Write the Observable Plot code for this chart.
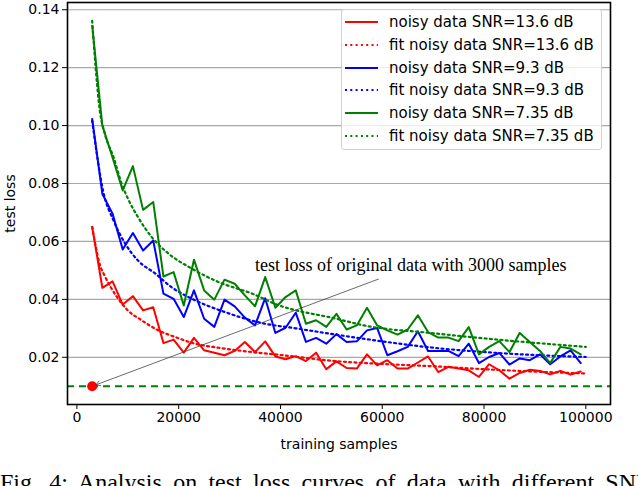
<!DOCTYPE html>
<html>
<head>
<meta charset="utf-8">
<script src="https://cdn.jsdelivr.net/npm/d3@7"></script>
<script src="https://cdn.jsdelivr.net/npm/@observablehq/plot@0.6"></script>
<style>
  body { margin: 0; background: #fff; overflow: hidden; }
  #wrap { position: relative; width: 638px; height: 486px; overflow: hidden; }
  .legend { position: absolute; left: 341px; top: 9px; width: 259px; height: 139px;
    border: 1px solid #d0d0d0; border-radius: 3px; background: rgba(255,255,255,0.8);
    font-family: "DejaVu Sans", sans-serif; font-size: 15px; color: #000; }
  .legend .row { position: absolute; left: 0; height: 20px; display: flex; align-items: center; }
  .legend svg { margin-left: 3px; margin-right: 11px; }
  .caption { position: absolute; left: 0; top: 469px; width: 652px; font-family: "Liberation Serif", serif;
    font-size: 24px; white-space: nowrap; color: #000; text-align: justify; text-align-last: justify; }
</style>
</head>
<body>
<div id="wrap">
  <div class="chart"></div>
  <div class="legend"></div>
  <div class="caption">Fig. 4: Analysis on test loss curves of data with different SNR</div>
</div>
<script>
console.log("test loss chart loaded");

// training samples: 3000, 5000, ..., 99000
const samples = d3.range(3000, 100000, 2000);

const red = [0.065, 0.044, 0.0462, 0.0382, 0.0411, 0.0362, 0.0373, 0.0249, 0.0261, 0.0216,
  0.0267, 0.0224, 0.0216, 0.0207, 0.0222, 0.0253, 0.0218, 0.0255, 0.0203, 0.0193,
  0.0204, 0.0187, 0.0216, 0.0159, 0.0186, 0.0163, 0.0161, 0.021, 0.0172, 0.019,
  0.0161, 0.0161, 0.0182, 0.0203, 0.0149, 0.0167, 0.0161, 0.0155, 0.0132, 0.0176,
  0.0155, 0.0126, 0.0146, 0.0157, 0.0153, 0.0141, 0.0153, 0.014, 0.0151];

const blue = [0.1023, 0.0764, 0.0696, 0.0572, 0.0629, 0.0569, 0.0603, 0.042, 0.0402, 0.0339,
  0.0431, 0.0333, 0.0305, 0.0399, 0.0376, 0.0337, 0.031, 0.0404, 0.0284, 0.0302,
  0.0354, 0.0253, 0.0267, 0.0247, 0.028, 0.0253, 0.0255, 0.0293, 0.0301, 0.0207,
  0.0221, 0.0236, 0.029, 0.0222, 0.0222, 0.0222, 0.0204, 0.0247, 0.018, 0.0201,
  0.0215, 0.0175, 0.0196, 0.019, 0.021, 0.0176, 0.0203, 0.0224, 0.018];

const green = [0.1345, 0.100, 0.089, 0.0776, 0.086, 0.0709, 0.0736, 0.0479, 0.0494, 0.0379,
  0.0537, 0.0431, 0.0399, 0.0468, 0.0454, 0.0414, 0.0376, 0.0477, 0.0371, 0.0408,
  0.0431, 0.0316, 0.0328, 0.0305, 0.035, 0.0296, 0.031, 0.0371, 0.031, 0.0293,
  0.0278, 0.0296, 0.0345, 0.0287, 0.0268, 0.0268, 0.0256, 0.0304, 0.021, 0.0236,
  0.0256, 0.0218, 0.0284, 0.0253, 0.0222, 0.018, 0.0236, 0.023, 0.021];

// fitted curves
const redFitX = [3000, 4500, 5500, 7800, 10000, 12700, 16000, 19300, 23200, 27800, 34400, 40000, 50000, 60000, 70000, 82000, 100000];
const redFitY = [0.065, 0.052, 0.048, 0.041, 0.0362, 0.0328, 0.0293, 0.027, 0.0247, 0.0233, 0.0218, 0.0208, 0.0188, 0.0177, 0.0169, 0.0157, 0.0144];
const blueFitX = [3000, 5200, 7200, 9500, 12000, 15400, 18600, 23200, 29100, 36400, 43000, 51000, 56400, 69500, 82600, 100000];
const blueFitY = [0.1017, 0.077, 0.0672, 0.0592, 0.0534, 0.0489, 0.0442, 0.0397, 0.0356, 0.0318, 0.03, 0.0278, 0.0264, 0.0234, 0.0215, 0.0201];
const greenFitX = [3000, 4500, 5500, 7200, 8800, 10100, 12000, 14700, 18000, 22600, 27800, 34400, 39300, 51000, 56400, 69500, 82600, 100000];
const greenFitY = [0.1362, 0.1052, 0.0971, 0.0891, 0.0799, 0.0745, 0.0684, 0.0615, 0.0558, 0.0506, 0.046, 0.042, 0.0382, 0.0333, 0.031, 0.0284, 0.0261, 0.0236];

const baseline = 0.01;      // original data, 3000 samples
const baseSamples = 3000;
const noteText = "test loss of original data with 3000 samples";
const notePos = {x: 35000, y: 0.0517};
const arrowFrom = {x: 59250, y: 0.047};

const yTicks = [0.02, 0.04, 0.06, 0.08, 0.10, 0.12, 0.14];
const xTicks = [0, 20000, 40000, 60000, 80000, 100000];

const seriesNames = ["noisy data SNR=13.6 dB", "fit noisy data SNR=13.6 dB",
  "noisy data SNR=9.3 dB", "fit noisy data SNR=9.3 dB",
  "noisy data SNR=7.35 dB", "fit noisy data SNR=7.35 dB"];
const colors = ["#ff0000", "#ff0000", "#0000ff", "#0000ff", "#008000", "#008000"];

const toRows = (xs, ys) => xs.map((x, i) => ({x, y: ys[i]}));
const noisy = [red, blue, green].map(ys => toRows(samples, ys));
const fits = [[redFitX, redFitY], [blueFitX, blueFitY], [greenFitX, greenFitY]].map(([xs, ys]) => toRows(xs, ys));

const dotted = "2,3.3";
const font = "DejaVu Sans, sans-serif";

const marks = [
  Plot.gridY(yTicks, {stroke: "#a8a8a8", strokeOpacity: 1, strokeWidth: 1.2}),
  Plot.ruleY([baseline], {stroke: "#008000", strokeWidth: 2, strokeDasharray: "7,5"})
];
[0, 1, 2].forEach(i => {
  marks.push(Plot.lineY(noisy[i], {x: "x", y: "y", stroke: colors[i * 2], strokeWidth: 2}));
  marks.push(Plot.lineY(fits[i], {x: "x", y: "y", stroke: colors[i * 2], strokeWidth: 2.2,
    strokeDasharray: dotted, curve: "monotone-x"}));
});
marks.push(
  Plot.dot([{x: baseSamples, y: baseline}], {x: "x", y: "y", r: 5, fill: "#ff0000", stroke: "none"}),
  Plot.arrow([{x1: arrowFrom.x, y1: arrowFrom.y, x2: baseSamples, y2: baseline}],
    {x1: "x1", y1: "y1", x2: "x2", y2: "y2", stroke: "#444", strokeWidth: 0.8, headLength: 9, insetEnd: 4, bend: false}),
  Plot.text([notePos], {x: "x", y: "y", text: () => noteText, textAnchor: "start",
    fontFamily: "Liberation Serif, serif", fontSize: 18, fill: "#000"}),
  Plot.frame({stroke: "#000", strokeWidth: 1.6}),
  Plot.axisX({ticks: xTicks, tickFormat: d3.format("d"), tickSize: 5, tickPadding: 3, fontSize: 14,
    label: "training samples", labelAnchor: "center", labelArrow: "none", labelOffset: 44}),
  Plot.axisY({ticks: yTicks, tickFormat: d3.format(".2f"), tickSize: 5, tickPadding: 3, fontSize: 14,
    label: "test loss", labelAnchor: "center", labelArrow: "none", labelOffset: 62})
);

const chart = Plot.plot({
  width: 638,
  height: 456,
  marginLeft: 67,
  marginRight: 28,
  marginTop: 2,
  marginBottom: 52,
  style: {fontFamily: font, fontSize: "14px", color: "#000", background: "#fff"},
  x: {domain: [-1850, 104850]},
  y: {domain: [0.0037, 0.1425]},
  marks
});
document.querySelector(".chart").append(chart);

// legend box like matplotlib's
const legend = document.querySelector(".legend");
seriesNames.forEach((name, i) => {
  const row = document.createElement("div");
  row.className = "row";
  row.style.top = (2 + i * 22.8) + "px";
  const dash = i % 2 ? `stroke-dasharray="${dotted}"` : "";
  row.innerHTML = `<svg width="33" height="20"><line x1="0" x2="33" y1="10" y2="10" stroke="${colors[i]}" stroke-width="2.2" ${dash}/></svg><span>${name}</span>`;
  legend.append(row);
});
</script>
</body>
</html>
